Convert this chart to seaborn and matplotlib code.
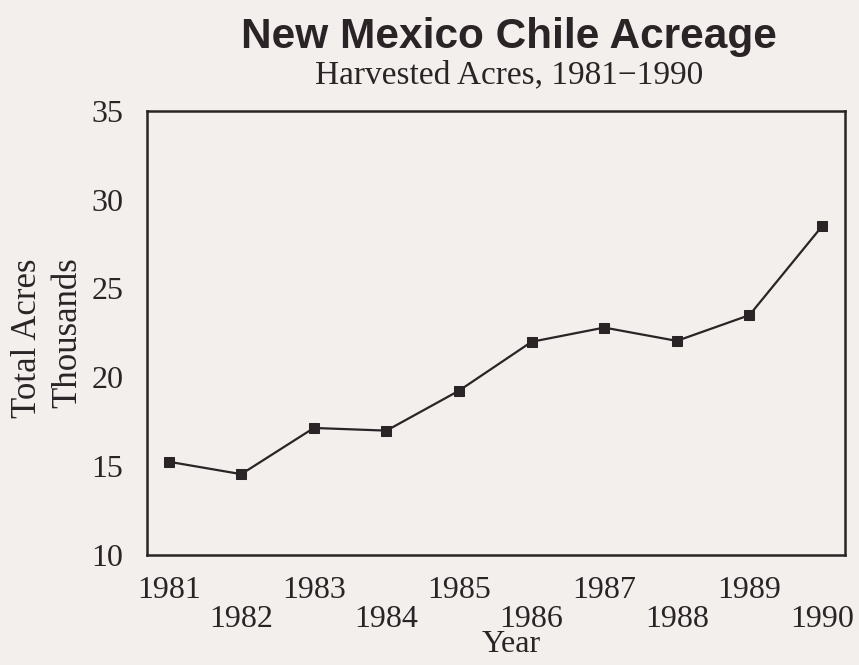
import pandas as pd
import seaborn as sns
import matplotlib.pyplot as plt

years = [1981, 1982, 1983, 1984, 1985, 1986, 1987, 1988, 1989, 1990]
acres = [15.25, 14.55, 17.15, 17.0, 19.25, 22.0, 22.8, 22.05, 23.5, 28.5]
y_ticks = [10, 15, 20, 25, 30, 35]

PAPER = '#f3efed'
INK = '#2b2426'

df = pd.DataFrame({'year': years, 'acres': acres})

sns.set_style('white')
plt.rcParams['font.family'] = ['Liberation Serif', 'DejaVu Serif']

fig = plt.figure(figsize=(8.59, 6.65), dpi=100, facecolor=PAPER)
ax = fig.add_axes([0.171, 0.1654, 0.813, 0.668])
ax.set_facecolor(PAPER)

sns.lineplot(data=df, x='year', y='acres', ax=ax, color=INK, linewidth=1.6,
             marker='s', markersize=6.5, markeredgecolor=INK, markerfacecolor=INK)

ax.set_xlim(1980.7, 1990.32)
ax.set_ylim(10, 35)
ax.set_yticks(y_ticks)
ax.set_yticklabels([str(t) for t in y_ticks], fontsize=23, color=INK)
ax.set_xticks(years)
ax.set_xticklabels([str(y) if i % 2 == 0 else '\n' + str(y) for i, y in enumerate(years)],
                   fontsize=23, color=INK, linespacing=1.0)
ax.tick_params(axis='x', direction='in', length=5, width=1, color=INK, pad=15)
ax.tick_params(axis='y', direction='in', length=5, width=1, color=INK, pad=17)

for s in ax.spines.values():
    s.set_color(INK)
    s.set_linewidth(1.8)

ax.set_xlabel('')
ax.set_ylabel('')
fig.text(0.595, 1 - 645 / 665, 'Year', ha='center', va='center', fontsize=23, color=INK)
fig.text(0.032, 1 - 338 / 665, 'Total Acres', rotation=90, ha='center', va='center',
         fontsize=25, color=INK)
fig.text(0.079, 1 - 333 / 665, 'Thousands', rotation=90, ha='center', va='center',
         fontsize=25, color=INK)

fig.text(0.593, 0.944, 'New Mexico Chile Acreage', ha='center', va='center', fontsize=30.5,
         fontweight='bold', family=['Liberation Sans', 'DejaVu Sans'], color=INK)
fig.text(0.593, 0.887, 'Harvested Acres, 1981\u22121990', ha='center', va='center',
         fontsize=24, color=INK)

fig.savefig('out.png', dpi=100, facecolor=PAPER)
